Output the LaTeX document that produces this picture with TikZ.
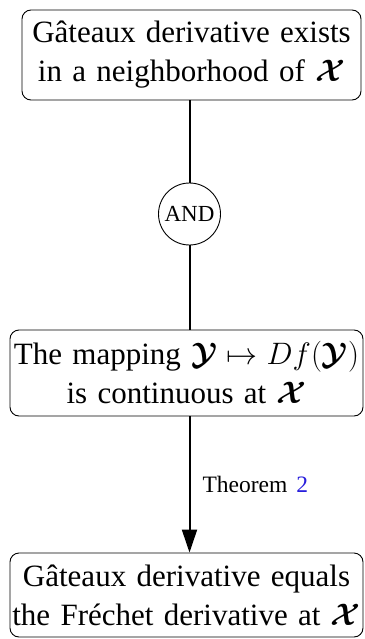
\RequirePackage{fix-cm}
\documentclass[tikz,border=0pt]{standalone}
\usepackage{amsmath}
\usepackage{bm}
\usepackage{fontspec}
\setmainfont{Liberation Serif}
\usetikzlibrary{arrows.meta}
\definecolor{linkblue}{RGB}{40,30,220}
\begin{document}
\begin{tikzpicture}[x=1pt,y=-1pt,
  box/.style={draw, line width=0.9pt, rounded corners=9pt, inner sep=0pt, align=center, font=\fontsize{31}{39}\selectfont},
  andnode/.style={draw, circle, line width=0.9pt, inner sep=0pt, minimum size=62pt, font=\fontsize{23}{28}\selectfont},
  link/.style={line width=2pt},
  lbl/.style={inner sep=0pt, font=\fontsize{23.5}{28}\selectfont}]
\useasboundingbox (0,0) rectangle (364,639);
\node[box, minimum width=339pt, minimum height=90pt, text width=339pt] (gat) at (191.5,55)
  {Gâteaux derivative exists\\in a neighborhood of $\bm{\mathcal{X}}$};
\node[andnode] (and) at (189.5,214) {AND};
\node[box, minimum width=353pt, minimum height=86pt, text width=353pt] (map) at (186.5,373)
  {The mapping $\bm{\mathcal{Y}}\mapsto Df(\bm{\mathcal{Y}})$\\is continuous at $\bm{\mathcal{X}}$};
\node[box, minimum width=353pt, minimum height=84pt, text width=353pt] (res) at (186.5,595)
  {Gâteaux derivative equals\\the Fréchet derivative at $\bm{\mathcal{X}}$};
\draw[link] (gat.south -| and.center) -- (and.north);
\draw[link] (and.south) -- (map.north -| and.center);
\draw[link, -{Triangle[length=23pt,width=15pt]}] (map.south -| and.center) --
  node[lbl, right=12pt] {Theorem\hspace{9pt}\textcolor{linkblue}{2}} (res.north -| and.center);
\end{tikzpicture}
\end{document}
